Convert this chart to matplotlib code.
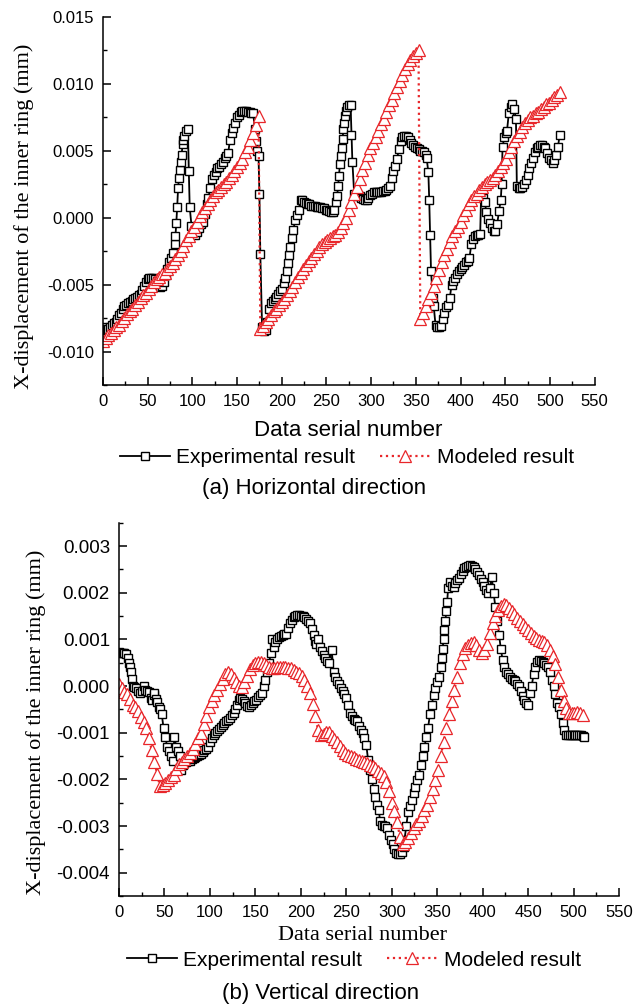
import matplotlib
matplotlib.use("Agg")
import matplotlib.pyplot as plt
from matplotlib.ticker import MultipleLocator, FormatStrFormatter

plt.rcParams['font.family'] = 'Liberation Sans'
plt.rcParams['axes.unicode_minus'] = False

# (a) horizontal direction - experimental, (serial number, displacement mm)
h_exp = [(0, -0.0082), (2, -0.0083), (4, -0.0084), (6, -0.0083), (8, -0.0082), (10, -0.0080),
         (12, -0.0079), (14, -0.0078), (16, -0.0076), (18, -0.0073), (20, -0.0071), (22, -0.0068),
         (24, -0.0066), (26, -0.0065), (28, -0.0064), (30, -0.0063), (32, -0.0062), (34, -0.0061),
         (36, -0.0060), (38, -0.0059), (40, -0.0058), (42, -0.0057), (44, -0.0054), (46, -0.0051),
         (48, -0.0048), (50, -0.0046), (52, -0.0045), (54, -0.0045), (56, -0.0045), (58, -0.0046),
         (60, -0.0047), (62, -0.0050), (64, -0.0052), (66, -0.0051), (68, -0.0048), (70, -0.0043),
         (72, -0.0038), (74, -0.0033), (76, -0.0030), (78, -0.0026), (80, -0.0020), (81, -0.0014),
         (82, -0.0004), (83, 0.0008), (84, 0.0022), (85, 0.0030), (86, 0.0036), (87, 0.0042),
         (88, 0.0047), (89, 0.0055), (90, 0.0058), (91, 0.0061), (93, 0.0065), (95, 0.0066),
         (96, 0.0035), (97, 0.0008), (99, -0.0006), (101, -0.0012), (103, -0.0013), (105, -0.0011),
         (107, -0.0008), (110, -0.0005), (112, -0.0003), (114, 0.0003), (116, 0.0010), (118, 0.0015),
         (120, 0.0022), (122, 0.0029), (124, 0.0032), (126, 0.0034), (128, 0.0037), (130, 0.0038),
         (132, 0.0040), (134, 0.0042), (136, 0.0045), (138, 0.0046), (140, 0.0048), (142, 0.0058),
         (144, 0.0063), (146, 0.0067), (148, 0.0071), (150, 0.0075), (152, 0.0077), (154, 0.0079),
         (156, 0.0080), (158, 0.0080), (160, 0.0080), (162, 0.0079), (164, 0.0079), (166, 0.0078),
         (168, 0.0078), (170, 0.0066), (171, 0.0057), (172, 0.0050), (174, 0.0046), (175, 0.0018),
         (176, -0.0027), (178, -0.0082), (180, -0.0085), (182, -0.0084), (184, -0.0078), (186, -0.0068),
         (188, -0.0064), (190, -0.0062), (192, -0.0061), (194, -0.0059), (196, -0.0057), (198, -0.0055),
         (200, -0.0053), (202, -0.0049), (204, -0.0045), (206, -0.0040), (207, -0.0034), (208, -0.0028),
         (209, -0.0022), (211, -0.0015), (213, -0.0009), (215, -0.0002), (217, 0.0002), (219, 0.0006),
         (221, 0.0013), (223, 0.0013), (225, 0.0012), (227, 0.0011), (229, 0.0010), (231, 0.0010),
         (233, 0.0009), (235, 0.0009), (237, 0.0009), (239, 0.0008), (241, 0.0008), (243, 0.0008),
         (245, 0.0007), (247, 0.0007), (249, 0.0006), (251, 0.0006), (253, 0.0005), (255, 0.0004),
         (257, 0.0004), (259, 0.0006), (261, 0.0012), (262, 0.0016), (263, 0.0024), (264, 0.0031),
         (265, 0.0040), (266, 0.0046), (267, 0.0052), (268, 0.0059), (269, 0.0066), (270, 0.0071),
         (271, 0.0076), (272, 0.0080), (273, 0.0083), (275, 0.0084), (277, 0.0084), (278, 0.0062),
         (279, 0.0042), (281, 0.0018), (283, 0.0017), (285, 0.0016), (287, 0.0016), (289, 0.0015),
         (291, 0.0014), (293, 0.0013), (295, 0.0013), (297, 0.0015), (299, 0.0017), (301, 0.0018),
         (303, 0.0019), (305, 0.0019), (307, 0.0019), (309, 0.0019), (311, 0.0019), (313, 0.0020),
         (315, 0.0020), (317, 0.0021), (319, 0.0022), (321, 0.0024), (323, 0.0030), (325, 0.0035),
         (327, 0.0039), (329, 0.0044), (331, 0.0051), (333, 0.0057), (335, 0.0060), (337, 0.0061),
         (339, 0.0061), (341, 0.0060), (343, 0.0058), (345, 0.0056), (347, 0.0054), (349, 0.0053),
         (351, 0.0052), (353, 0.0051), (355, 0.0050), (357, 0.0050), (359, 0.0049), (361, 0.0047),
         (362, 0.0045), (364, 0.0034), (365, 0.0013), (366, -0.0013), (367, -0.0040), (369, -0.0060),
         (370, -0.0066), (372, -0.0080), (374, -0.0082), (376, -0.0082), (378, -0.0081), (380, -0.0076),
         (382, -0.0071), (384, -0.0067), (386, -0.0065), (388, -0.0060), (390, -0.0050), (392, -0.0047),
         (394, -0.0045), (396, -0.0042), (398, -0.0040), (400, -0.0038), (402, -0.0037), (404, -0.0035),
         (406, -0.0033), (408, -0.0032), (410, -0.0030), (412, -0.0020), (414, -0.0016), (416, -0.0014),
         (418, -0.0013), (420, -0.0013), (422, -0.0012), (423, 0.0016), (425, 0.0015), (427, 0.0012),
         (429, 0.0004), (431, -0.0001), (433, -0.0004), (435, -0.0008), (437, -0.0010), (439, -0.0010),
         (441, -0.0005), (443, 0.0005), (445, 0.0013), (446, 0.0025), (447, 0.0053), (449, 0.0060),
         (451, 0.0063), (452, 0.0065), (454, 0.0078), (456, 0.0083), (458, 0.0085), (460, 0.0081),
         (462, 0.0074), (463, 0.0024), (465, 0.0022), (467, 0.0022), (469, 0.0023), (471, 0.0025),
         (473, 0.0028), (475, 0.0032), (477, 0.0037), (479, 0.0041), (481, 0.0045), (483, 0.0049),
         (485, 0.0052), (487, 0.0053), (489, 0.0054), (491, 0.0054), (493, 0.0053), (495, 0.0052),
         (497, 0.0048), (499, 0.0045), (501, 0.0043), (503, 0.0041), (505, 0.0043), (507, 0.0047),
         (509, 0.0053), (511, 0.0062)]

# (a) horizontal direction - modeled, three ramps sampled every 3rd serial number
h_mod_x1 = list(range(0, 175, 3))
h_mod_y1 = [-0.0092, -0.0090, -0.0088, -0.0086, -0.0084, -0.0082, -0.0080, -0.0077, -0.0075, -0.0072,
            -0.0070, -0.0068, -0.0065, -0.0063, -0.0060, -0.0058, -0.0056, -0.0053, -0.0051, -0.0048,
            -0.0046, -0.0044, -0.0042, -0.0041, -0.0038, -0.0036, -0.0034, -0.0031, -0.0028, -0.0025,
            -0.0021, -0.0017, -0.0014, -0.0010, -0.0007, -0.0003, 0.0001, 0.0004, 0.0007, 0.0010,
            0.0013, 0.0016, 0.0019, 0.0021, 0.0023, 0.0025, 0.0027, 0.0030, 0.0032, 0.0035,
            0.0038, 0.0041, 0.0044, 0.0049, 0.0053, 0.0058, 0.0063, 0.0069, 0.0076]
h_mod_x2 = list(range(176, 354, 3))
h_mod_y2 = [-0.0083, -0.0081, -0.0078, -0.0076, -0.0073, -0.0070, -0.0068, -0.0065, -0.0063, -0.0061,
            -0.0058, -0.0055, -0.0052, -0.0048, -0.0044, -0.0041, -0.0038, -0.0035, -0.0032, -0.0030,
            -0.0027, -0.0025, -0.0022, -0.0020, -0.0018, -0.0017, -0.0015, -0.0014, -0.0013, -0.0011,
            -0.0008, -0.0004, 0.0000, 0.0006, 0.0012, 0.0018, 0.0023, 0.0029, 0.0036, 0.0041,
            0.0047, 0.0052, 0.0056, 0.0060, 0.0065, 0.0070, 0.0074, 0.0079, 0.0084, 0.0088,
            0.0093, 0.0098, 0.0102, 0.0107, 0.0111, 0.0115, 0.0118, 0.0121, 0.0123, 0.0125]
h_mod_x3 = list(range(355, 512, 3))
h_mod_y3 = [-0.0076, -0.0071, -0.0066, -0.0061, -0.0056, -0.0051, -0.0045, -0.0039, -0.0033, -0.0028,
            -0.0023, -0.0018, -0.0014, -0.0010, -0.0007, -0.0003, 0.0002, 0.0006, 0.0010, 0.0013,
            0.0016, 0.0018, 0.0021, 0.0023, 0.0025, 0.0027, 0.0028, 0.0030, 0.0032, 0.0035,
            0.0038, 0.0041, 0.0044, 0.0049, 0.0053, 0.0057, 0.0061, 0.0064, 0.0068, 0.0071,
            0.0073, 0.0075, 0.0076, 0.0078, 0.0079, 0.0081, 0.0083, 0.0085, 0.0086, 0.0088,
            0.0090, 0.0092, 0.0094]

# (b) vertical direction - experimental
v_exp = [(0, 0.00073), (2, 0.00071), (4, 0.00070), (6, 0.00070), (8, 0.00068), (10, 0.00060),
         (11, 0.00050), (12, 0.00040), (13, 0.00030), (14, 0.00015), (15, 0.00000), (17, -0.00003),
         (19, -0.00005), (21, -0.00010), (23, -0.00015), (25, -0.00010), (27, 0.00000), (29, -0.00008),
         (31, -0.00010), (33, -0.00012), (35, -0.00025), (36, -0.00030), (38, -0.00020), (39, -0.00016),
         (41, -0.00028), (42, -0.00034), (44, -0.00045), (45, -0.00050), (47, -0.00060), (49, -0.00090),
         (51, -0.00110), (53, -0.00130), (55, -0.00140), (57, -0.00150), (59, -0.00160), (61, -0.00110),
         (63, -0.00130), (65, -0.00140), (67, -0.00150), (68, -0.00180), (70, -0.00170), (72, -0.00166),
         (74, -0.00162), (76, -0.00160), (78, -0.00160), (80, -0.00157), (82, -0.00154), (84, -0.00152),
         (86, -0.00150), (88, -0.00148), (90, -0.00145), (92, -0.00142), (94, -0.00138), (96, -0.00134),
         (98, -0.00130), (100, -0.00120), (102, -0.00112), (104, -0.00106), (106, -0.00100), (108, -0.00096),
         (110, -0.00092), (112, -0.00088), (114, -0.00084), (116, -0.00080), (118, -0.00076), (120, -0.00072),
         (122, -0.00068), (124, -0.00062), (126, -0.00058), (128, -0.00050), (130, -0.00040), (132, -0.00030),
         (133, -0.00026), (135, -0.00028), (137, -0.00032), (139, -0.00037), (141, -0.00042), (143, -0.00044),
         (145, -0.00040), (147, -0.00036), (149, -0.00033), (151, -0.00030), (153, -0.00024), (155, -0.00019),
         (157, -0.00016), (159, 0.00000), (161, 0.00013), (163, 0.00030), (165, 0.00049), (167, 0.00070),
         (168, 0.00100), (170, 0.00084), (172, 0.00094), (174, 0.00100), (176, 0.00106), (178, 0.00108),
         (180, 0.00110), (182, 0.00111), (184, 0.00112), (186, 0.00125), (188, 0.00134), (190, 0.00142),
         (192, 0.00148), (194, 0.00150), (196, 0.00152), (198, 0.00152), (200, 0.00151), (202, 0.00150),
         (204, 0.00147), (206, 0.00144), (208, 0.00140), (210, 0.00134), (212, 0.00122), (214, 0.00110),
         (216, 0.00096), (217, 0.00090), (219, 0.00100), (221, 0.00084), (223, 0.00076), (225, 0.00066),
         (227, 0.00060), (229, 0.00054), (231, 0.00050), (234, 0.00077), (236, 0.00030), (238, 0.00020),
         (240, 0.00010), (242, 0.00004), (244, -0.00004), (246, -0.00010), (248, -0.00018), (250, -0.00026),
         (252, -0.00040), (254, -0.00058), (256, -0.00065), (258, -0.00070), (260, -0.00073), (262, -0.00075),
         (264, -0.00085), (266, -0.00094), (268, -0.00100), (270, -0.00112), (272, -0.00126), (274, -0.00158),
         (276, -0.00180), (278, -0.00200), (280, -0.00220), (282, -0.00237), (284, -0.00255), (286, -0.00265),
         (287, -0.00290), (289, -0.00298), (291, -0.00300), (293, -0.00300), (295, -0.00305), (297, -0.00320),
         (299, -0.00330), (301, -0.00338), (303, -0.00350), (305, -0.00358), (307, -0.00360), (309, -0.00360),
         (311, -0.00356), (313, -0.00345), (314, -0.00330), (316, -0.00300), (318, -0.00270), (320, -0.00258),
         (322, -0.00245), (324, -0.00230), (326, -0.00216), (328, -0.00202), (330, -0.00190), (332, -0.00170),
         (334, -0.00150), (336, -0.00130), (338, -0.00110), (340, -0.00090), (342, -0.00060), (344, -0.00040),
         (346, -0.00020), (348, -0.00005), (350, 0.00008), (352, 0.00020), (354, 0.00040), (355, 0.00060),
         (356, 0.00080), (357, 0.00100), (358, 0.00120), (359, 0.00140), (360, 0.00160), (361, 0.00180),
         (362, 0.00210), (364, 0.00222), (366, 0.00215), (368, 0.00212), (370, 0.00220), (372, 0.00228),
         (374, 0.00232), (376, 0.00240), (378, 0.00247), (380, 0.00252), (382, 0.00255), (384, 0.00258),
         (386, 0.00259), (388, 0.00258), (390, 0.00254), (392, 0.00250), (394, 0.00245), (396, 0.00238),
         (398, 0.00230), (400, 0.00222), (402, 0.00214), (404, 0.00206), (406, 0.00200), (408, 0.00210),
         (410, 0.00234), (412, 0.00200), (414, 0.00170), (416, 0.00140), (418, 0.00110), (420, 0.00080),
         (422, 0.00055), (424, 0.00040), (426, 0.00030), (428, 0.00025), (430, 0.00020), (432, 0.00016),
         (434, 0.00013), (436, 0.00010), (438, 0.00004), (440, 0.00000), (442, -0.00010), (444, -0.00022),
         (446, -0.00030), (448, -0.00037), (450, -0.00040), (452, -0.00016), (454, 0.00000), (456, 0.00025),
         (458, 0.00041), (460, 0.00052), (462, 0.00056), (464, 0.00054), (466, 0.00052), (468, 0.00050),
         (470, 0.00046), (472, 0.00041), (474, 0.00030), (476, 0.00012), (478, -0.00001), (480, -0.00018),
         (482, -0.00036), (484, -0.00044), (486, -0.00060), (488, -0.00080), (490, -0.00095), (492, -0.00104),
         (494, -0.00105), (496, -0.00105), (498, -0.00105), (500, -0.00105), (502, -0.00105), (504, -0.00105),
         (506, -0.00105), (508, -0.00106), (510, -0.00108), (512, -0.00110)]

# (b) vertical direction - modeled, every 3rd serial number
v_mod_x = list(range(0, 511, 3))
v_mod_y = [0.00005, -0.00005, -0.00012, -0.00018, -0.00028, -0.00040, -0.00046, -0.00053, -0.00066, -0.00078,
           -0.00090, -0.00112, -0.00138, -0.00162, -0.00188, -0.00215, -0.00212, -0.00208, -0.00202, -0.00196,
           -0.00190, -0.00178, -0.00168, -0.00162, -0.00156, -0.00150, -0.00144, -0.00136, -0.00124, -0.00112,
           -0.00100, -0.00082, -0.00064, -0.00046, -0.00032, -0.00020, -0.00008, 0.00004, 0.00016, 0.00026,
           0.00030, 0.00026, 0.00018, 0.00008, 0.00000, -0.00002, 0.00008, 0.00022, 0.00036, 0.00045,
           0.00050, 0.00052, 0.00051, 0.00049, 0.00045, 0.00040, 0.00038, 0.00038, 0.00040, 0.00041,
           0.00041, 0.00040, 0.00038, 0.00038, 0.00035, 0.00030, 0.00027, 0.00022, 0.00013, 0.00000,
           -0.00016, -0.00038, -0.00064, -0.00095, -0.00105, -0.00102, -0.00098, -0.00099, -0.00107, -0.00114,
           -0.00120, -0.00129, -0.00137, -0.00143, -0.00147, -0.00150, -0.00153, -0.00156, -0.00158, -0.00160,
           -0.00163, -0.00166, -0.00169, -0.00172, -0.00176, -0.00182, -0.00187, -0.00193, -0.00205, -0.00226,
           -0.00250, -0.00268, -0.00292, -0.00323, -0.00338, -0.00335, -0.00326, -0.00316, -0.00304, -0.00296,
           -0.00290, -0.00278, -0.00266, -0.00254, -0.00238, -0.00220, -0.00202, -0.00180, -0.00150, -0.00120,
           -0.00090, -0.00060, -0.00032, -0.00008, 0.00020, 0.00050, 0.00068, 0.00082, 0.00088, 0.00092,
           0.00095, 0.00088, 0.00078, 0.00070, 0.00078, 0.00090, 0.00114, 0.00136, 0.00150, 0.00162,
           0.00172, 0.00176, 0.00173, 0.00167, 0.00160, 0.00154, 0.00146, 0.00139, 0.00132, 0.00126,
           0.00120, 0.00114, 0.00108, 0.00102, 0.00099, 0.00097, 0.00094, 0.00088, 0.00078, 0.00064,
           0.00047, 0.00020, -0.00008, -0.00032, -0.00048, -0.00057, -0.00058, -0.00057, -0.00055, -0.00057,
           -0.00062]

RED = '#e8262a'
W, H = 635, 1006
fig = plt.figure(figsize=(W / 100, H / 100), dpi=100)


def style_axes(ax, ymajor, yminor, ylabelsize):
    ax.spines['top'].set_visible(False)
    ax.spines['right'].set_visible(False)
    for s in ('left', 'bottom'):
        ax.spines[s].set_linewidth(1.1)
    ax.set_xlim(0, 550)
    ax.xaxis.set_major_locator(MultipleLocator(50))
    ax.xaxis.set_minor_locator(MultipleLocator(25))
    ax.yaxis.set_major_locator(MultipleLocator(ymajor))
    ax.yaxis.set_minor_locator(MultipleLocator(yminor))
    ax.yaxis.set_major_formatter(FormatStrFormatter('%.3f'))
    ax.tick_params(which='major', direction='in', length=6, width=1.1, pad=6.5)
    ax.tick_params(which='minor', direction='in', length=3, width=1.0)
    ax.tick_params(axis='x', labelsize=12)
    ax.tick_params(axis='y', labelsize=ylabelsize)


def draw(ax, exp_pts, mx, my):
    ex, ey = zip(*exp_pts)
    l1, = ax.plot(ex, ey, '-', color='black', lw=1.3, marker='s', ms=6,
                  mfc='white', mec='black', mew=1.0, label='Experimental result')
    l2, = ax.plot(mx, my, ':', color=RED, lw=1.6, marker='^', ms=8.5,
                  mfc='white', mec=RED, mew=0.9, label='Modeled result')
    return l1, l2


# (a)
ax1 = fig.add_axes([103 / W, 1 - 385 / H, 491.6 / W, 368 / H])
h1 = draw(ax1, h_exp, h_mod_x1 + h_mod_x2 + h_mod_x3, h_mod_y1 + h_mod_y2 + h_mod_y3)
ax1.set_ylim(-0.0125, 0.015)
style_axes(ax1, 0.005, 0.0025, 12)

# (b)
ax2 = fig.add_axes([119 / W, 1 - 896 / H, 500 / W, 373.3 / H])
h2 = draw(ax2, v_exp, v_mod_x, v_mod_y)
ax2.set_ylim(-0.0045, 0.0035)
style_axes(ax2, 0.001, 0.0005, 13.5)

ylab = 'X-displacement of the inner ring (mm)'
fig.text(24 / W, 1 - 216 / H, ylab, rotation=90, ha='center', va='center',
         family='Liberation Serif', fontsize=16)
fig.text(36 / W, 1 - 722 / H, ylab, rotation=90, ha='center', va='center',
         family='Liberation Serif', fontsize=16)

fig.text(348 / W, 1 - 431 / H, 'Data serial number', ha='center', va='center', fontsize=16)
fig.text(362 / W, 1 - 935 / H, 'Data serial number', ha='center', va='center',
         family='Liberation Serif', fontsize=16)

for handles, cx, cy in ((h1, 347, 458), (h2, 354, 960)):
    fig.legend(handles, [h.get_label() for h in handles], loc='center',
               bbox_to_anchor=(cx / W, 1 - cy / H), ncol=2, frameon=False,
               fontsize=15, numpoints=1, handlelength=2.4, handletextpad=0.3,
               columnspacing=1.2, borderpad=0, borderaxespad=0)

fig.text(314 / W, 1 - 489 / H, '(a) Horizontal direction', ha='center', va='center', fontsize=16)
fig.text(321 / W, 1 - 994 / H, '(b) Vertical direction', ha='center', va='center', fontsize=16)

fig.savefig('out.png', dpi=100)
